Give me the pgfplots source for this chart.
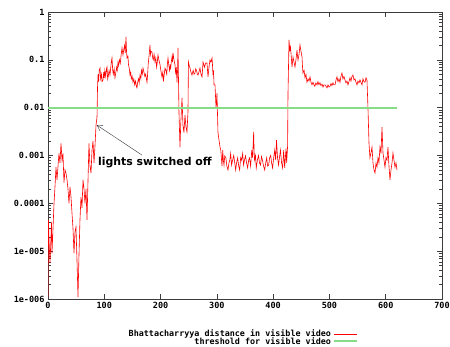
\documentclass[border=0pt]{standalone}
\usepackage{pgfplots}
\pgfplotsset{compat=1.18}
\usepackage{pgfplotstable}
\usepackage{fontspec}
\setmonofont{DejaVu Sans Mono}
\newfontfamily\annfont{DejaVu Sans}
\usetikzlibrary{arrows.meta}
\definecolor{thrgreen}{RGB}{135,220,135}
\definecolor{axgray}{RGB}{60,60,60}
\pgfplotstableread{
x y
0 1.1e-6
0.8 4.5e-5
2 1.5e-5
3.6 5.6e-6
5.3 2.0e-5
6.2 4e-5
7.1 9e-6
8.9 3e-5
10.7 1.0e-4
12.4 2.2e-4
14.2 5.7e-4
16 3.1e-4
17.8 6e-4
19.5 1.1e-3
21.3 7e-4
23.1 1.8e-3
24.9 8e-4
26.6 1.1e-3
28.4 2.7e-4
30.2 5e-4
32 4.3e-4
33.8 3.1e-4
35.5 2.0e-4
37.3 1.0e-4
39.1 2.2e-4
40.9 1.35e-4
42.6 6.3e-5
44.4 3e-5
46.2 9.1e-6
47.9 2.5e-5
49.7 3.2e-5
51.5 6.5e-6
53.3 1.1e-6
55 8e-6
56.8 4.5e-5
58.6 1.35e-4
60.4 8e-5
62.2 3.1e-4
64 2e-4
65.7 1.0e-4
67.5 2.0e-4
69.3 4.5e-5
71.1 3.1e-4
72.8 1.8e-3
74.6 6e-4
76.4 4.3e-4
78.2 1.3e-3
80 2.0e-3
81.7 7e-4
83.5 1.6e-3
85.3 4.3e-3
87.1 6.4e-3
88 0.027
89 0.05
90 0.035
91 0.06
92.4 0.067
93.5 0.04
95 0.05
96 0.035
97.7 0.038
99 0.055
100 0.042
101 0.06
102.5 0.045
104 0.065
104.8 0.071
106 0.04
107 0.045
108.5 0.06
110.1 0.048
111.5 0.07
112.5 0.09
113.7 0.109
115 0.06
116 0.05
117.5 0.065
119 0.042
120.5 0.055
122 0.07
123 0.06
124.4 0.09
125.5 0.075
127 0.1
128.5 0.085
130 0.13
131.5 0.177
133.2 0.126
134.5 0.16
136 0.2
137.2 0.14
138.6 0.30
139.5 0.15
140.4 0.109
142 0.12
143 0.08
144.5 0.065
145.7 0.048
147 0.055
148 0.04
149.5 0.045
151 0.034
152.5 0.04
154 0.03
155.5 0.036
157 0.028
158.1 0.026
159.5 0.035
161 0.04
162 0.033
163.4 0.048
165 0.04
166 0.06
167.5 0.05
168.8 0.067
170.5 0.055
172 0.045
173.5 0.05
175.9 0.034
177 0.05
178 0.08
179.5 0.12
181.2 0.204
182 0.13
183 0.15
184.8 0.146
186 0.11
187 0.1
188.5 0.13
190.1 0.09
191.5 0.11
193 0.07
194.2 0.09
195.4 0.126
197 0.1
199 0.08
200.5 0.06
202.5 0.044
204 0.055
205 0.035
206.5 0.05
207.9 0.067
209.5 0.06
211 0.05
212 0.08
213.2 0.109
214.5 0.08
216 0.06
217 0.075
218 0.067
219 0.09
220.3 0.115
221.2 0.09
222.1 0.139
223.8 0.1
225.6 0.08
226.3 0.06
227 0.05
228 0.07
229.2 0.034
230.2 0.06
231 0.177
232.7 0.0081
234.5 0.0015
236 0.005
238.1 0.016
239.8 0.0043
241.5 0.003
243.4 0.007
245 0.004
246.9 0.0031
248.7 0.0081
249.5 0.09
251 0.075
252.3 0.067
254 0.055
255.8 0.048
257 0.055
258 0.06
259.5 0.05
261.2 0.053
262.5 0.065
264 0.06
265.2 0.05
266.5 0.048
268 0.055
270 0.067
271.8 0.05
273.6 0.044
274.5 0.06
275.4 0.09
276.8 0.08
278 0.07
280 0.085
282.5 0.086
283.4 0.06
284.3 0.044
286 0.07
287.8 0.099
289.5 0.09
291.4 0.109
292.2 0.08
293.1 0.048
294 0.06
295 0.03
296.7 0.03
298.5 0.01
300.2 0.02
302 0.003
305.6 0.0015
307 0.0013
309.1 0.0006
310.5 0.0013
311.5 0.0008
312.7 0.00063
314 0.00098
316 0.0009
317.8 0.0006
319.8 0.0005
321.5 0.0007
323 0.0008
324.5 0.0011
326.2 0.00063
328 0.0008
330 0.001
331.8 0.0007
333.4 0.0005
335 0.0007
337 0.00089
338.8 0.0006
340.5 0.0005
342.3 0.0009
344 0.0008
345.8 0.0011
347.5 0.00063
349 0.0008
351 0.00098
352.8 0.0007
354.7 0.00055
356.5 0.0008
358 0.00089
360 0.0006
362 0.0013
363.5 0.0009
365.4 0.0031
366.2 0.0012
367 0.0008
368.6 0.001
370 0.00055
372 0.0008
374 0.001
375.8 0.0007
377.6 0.00063
379.3 0.00095
381 0.0008
383 0.0006
385 0.0005
386.8 0.0007
388.5 0.00089
390.2 0.0006
392 0.00063
393.8 0.0009
395.6 0.001
397.3 0.0007
399 0.00055
401 0.0009
402.8 0.0013
404.5 0.0008
406 0.0021
407.8 0.0009
409.6 0.00063
411.2 0.0009
413 0.0013
415 0.0007
416.9 0.00055
418.7 0.0013
420.5 0.00055
422 0.001
423 0.0014
424 0.0007
425.7 0.0016
426.4 0.02
428.2 0.26
429.5 0.15
430.5 0.2
431.7 0.139
432.6 0.1
433.5 0.071
434.4 0.09
435.3 0.115
437 0.09
438.8 0.071
440.5 0.1
442.4 0.16
443.3 0.12
444.2 0.099
446 0.13
447.7 0.204
449.5 0.15
451.3 0.115
452.2 0.07
453 0.053
455 0.06
456.6 0.042
458.3 0.05
460.1 0.034
462 0.04
463.8 0.036
465.5 0.044
467.3 0.034
469 0.030
470.8 0.034
472.5 0.03
474 0.028
476 0.033
477.9 0.030
479.6 0.035
481.4 0.03
483.2 0.033
485 0.029
486.8 0.031
488.6 0.027
490.3 0.03
492 0.030
494 0.028
495.7 0.026
497.5 0.03
499.2 0.027
501 0.028
502.8 0.032
504.5 0.029
506.3 0.033
508 0.03
510 0.030
511.7 0.038
513.4 0.044
515.2 0.035
517 0.04
518.8 0.034
520.5 0.045
522.3 0.053
524 0.04
525.8 0.045
527.6 0.038
529.4 0.033
531.2 0.036
533 0.030
534.7 0.035
536.5 0.042
538.3 0.036
540 0.045
541.9 0.048
543.6 0.038
545.4 0.04
547.2 0.034
549 0.030
550.7 0.036
552.5 0.033
554.3 0.038
556 0.034
557.9 0.030
559.6 0.04
561.4 0.035
563.2 0.034
565 0.042
566.7 0.038
568.5 0.0098
570.3 0.0018
572 0.0009
573.8 0.00113
575.6 0.0015
577.4 0.0007
579.2 0.0005
581 0.00043
582.8 0.0007
584.5 0.00057
586.3 0.0009
588 0.0007
589.8 0.0015
591.6 0.0011
593.4 0.0039
595.2 0.00113
597 0.0008
598.7 0.00057
600.5 0.0009
602.3 0.0008
604 0.0015
605.8 0.0006
607.6 0.00031
609.4 0.0005
611.2 0.0007
612.9 0.00113
614.7 0.0008
616.5 0.00057
618.3 0.0007
620 0.0005
}\bhatt
\begin{document}
\begin{tikzpicture}
\path[use as bounding box] (0,0) rectangle (450pt,347pt);
\begin{axis}[
 at={(48pt,48pt)}, anchor=south west,
 scale only axis, width=394pt, height=287pt,
 ymode=log, xmin=0, xmax=700, ymin=1e-6, ymax=1,
 xtick={0,100,...,700}, xticklabels={0,100,200,300,400,500,600,700},
 ytick={1e-6,1e-5,1e-4,1e-3,1e-2,1e-1,1},
 yticklabels={1e-006,1e-005,0.0001,0.001,0.01,0.1,1},
 ticklabel style={font=\ttfamily\bfseries\fontsize{8.5}{9}\selectfont},
 axis line style={axgray, line width=0.6pt},
 major tick length=5pt, minor tick length=3pt,
 every tick/.style={axgray, line width=0.5pt},
 legend style={draw=none, fill=none, font=\ttfamily\bfseries\fontsize{8.4}{9}\selectfont,
   at={(rel axis cs:0.795,-0.093)}, anchor=north east, row sep=-5pt},
 legend cell align=right,
 legend plot pos=right,
 legend image code/.code={\draw[#1] (0pt,0pt) -- (23pt,0pt);},
]
\addplot[red, line width=0.6pt, mark=none] table[x=x,y=y] {\bhatt};
\addlegendentry{Bhattacharryya distance in visible video}
\addplot[thrgreen, line width=2pt, mark=none] coordinates {(0,0.01) (620,0.01)};
\addlegendentry{threshold for visible video}
\node[anchor=west, font=\annfont\bfseries\fontsize{10.9}{12}\selectfont, inner sep=0pt] at (axis cs:88.8,7.3e-4) {lights switched off};
\draw[-{Straight Barb[length=5pt,width=6pt]}, black!80, line width=0.4pt] (axis cs:167,1.02e-3) -- (axis cs:87,4.3e-3);
\end{axis}
\end{tikzpicture}
\end{document}
